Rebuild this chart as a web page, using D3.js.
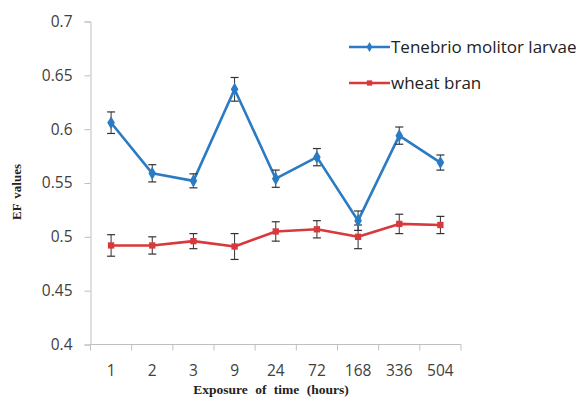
<!DOCTYPE html>
<html>
<head>
<meta charset="utf-8">
<script src="https://cdn.jsdelivr.net/npm/d3@7"></script>
<style>
  html, body { margin: 0; padding: 0; background: #fff; }
  svg { display: block; }
</style>
</head>
<body>
<svg id="chart" width="579" height="398"></svg>
<script>
// Exposure times (hours) on the x axis
const categories = ["1", "2", "3", "9", "24", "72", "168", "336", "504"];

// EF values and their error margins
const tenebrio = [0.606, 0.559, 0.552, 0.637, 0.554, 0.574, 0.515, 0.594, 0.569];
const tenebrioErr = [0.010, 0.008, 0.0065, 0.011, 0.008, 0.008, 0.009, 0.008, 0.007];
const wheat = [0.492, 0.492, 0.496, 0.491, 0.505, 0.507, 0.500, 0.512, 0.511];
const wheatErr = [0.010, 0.008, 0.007, 0.012, 0.009, 0.008, 0.011, 0.009, 0.008];

const yTicks = [0.4, 0.45, 0.5, 0.55, 0.6, 0.65, 0.7];
const seriesNames = ["Tenebrio molitor larvae", "wheat bran"];

const svg = d3.select("#chart");
const plotLeft = 90.5, plotRight = 461, plotTop = 21.5, plotBottom = 344.5;

const x = d3.scaleBand().domain(categories).range([plotLeft, plotRight]);
const y = d3.scaleLinear().domain([0.4, 0.7]).range([plotBottom, plotTop]);

const axisColor = "#bfbfbf";
const textColor = "#404040";
const tickFont = "'Open Sans', 'Liberation Sans', sans-serif";

// Y axis
const yAxis = svg.append("g")
  .attr("transform", `translate(${plotLeft},0)`)
  .call(d3.axisLeft(y).tickValues(yTicks).tickSize(6).tickPadding(12)
        .tickFormat(d => String(+d.toFixed(2))));
yAxis.select(".domain").attr("stroke", axisColor);
yAxis.selectAll(".tick line").attr("stroke", axisColor);
yAxis.selectAll("text").attr("fill", textColor).style("font-size", "15.5px")
  .style("font-family", tickFont);

// X axis with ticks at band boundaries
const xAxis = svg.append("g").attr("transform", `translate(0,${plotBottom})`);
xAxis.append("line").attr("x1", plotLeft).attr("x2", plotRight).attr("stroke", axisColor);
const bounds = categories.map(c => x(c)).concat([plotRight]);
xAxis.selectAll(".tk").data(bounds).join("line")
  .attr("class", "tk")
  .attr("x1", d => d).attr("x2", d => d).attr("y1", 0).attr("y2", 6)
  .attr("stroke", axisColor);
xAxis.selectAll(".lbl").data(categories).join("text")
  .attr("class", "lbl")
  .attr("x", d => x(d) + x.bandwidth() / 2)
  .attr("y", 31)
  .attr("text-anchor", "middle")
  .attr("fill", textColor)
  .style("font-size", "15.5px")
  .style("font-family", tickFont)
  .text(d => d);

// Axis titles
svg.append("text")
  .attr("transform", "translate(21,192) rotate(-90)")
  .attr("text-anchor", "middle")
  .style("font-family", "'Liberation Serif', serif")
  .style("font-weight", "bold")
  .style("font-size", "13px")
  .style("word-spacing", "2px")
  .attr("fill", "#222")
  .text("EF values");

svg.append("text")
  .attr("x", 271).attr("y", 394)
  .attr("text-anchor", "middle")
  .style("font-family", "'Liberation Serif', serif")
  .style("font-weight", "bold")
  .style("font-size", "13.5px")
  .style("word-spacing", "4px")
  .attr("fill", "#222")
  .text("Exposure of time (hours)");

const blue = "#2a7bc4";
const red = "#d8393c";

function drawSeries(values, errs, color, marker) {
  const g = svg.append("g");
  const cx = i => x(categories[i]) + x.bandwidth() / 2;
  const line = d3.line().x((d, i) => cx(i)).y(d => y(d));
  g.append("path").datum(values)
    .attr("fill", "none").attr("stroke", color).attr("stroke-width", 2.6)
    .attr("stroke-linejoin", "round").attr("d", line);

  // error bars
  const eb = g.selectAll(".eb").data(values).join("g")
    .attr("class", "eb")
    .attr("transform", (d, i) => `translate(${cx(i)},0)`);
  eb.append("line")
    .attr("y1", (d, i) => y(d + errs[i])).attr("y2", (d, i) => y(d - errs[i]))
    .attr("stroke", "#333").attr("stroke-width", 1);
  eb.append("line").attr("x1", -4).attr("x2", 4)
    .attr("y1", (d, i) => y(d + errs[i])).attr("y2", (d, i) => y(d + errs[i]))
    .attr("stroke", "#333").attr("stroke-width", 1.2);
  eb.append("line").attr("x1", -4).attr("x2", 4)
    .attr("y1", (d, i) => y(d - errs[i])).attr("y2", (d, i) => y(d - errs[i]))
    .attr("stroke", "#333").attr("stroke-width", 1.2);

  // markers
  const sym = d3.symbol().type(marker === "diamond" ? d3.symbolDiamond : d3.symbolSquare)
    .size(marker === "diamond" ? 50 : 40);
  g.selectAll(".mk").data(values).join("path")
    .attr("class", "mk")
    .attr("transform", (d, i) => `translate(${cx(i)},${y(d)})`)
    .attr("d", sym).attr("fill", color);
}

drawSeries(wheat, wheatErr, red, "square");
drawSeries(tenebrio, tenebrioErr, blue, "diamond");

// Legend
const legend = svg.append("g");
const legendItems = [
  { name: seriesNames[0], color: blue, marker: d3.symbolDiamond, size: 30, y: 47 },
  { name: seriesNames[1], color: red, marker: d3.symbolSquare, size: 28, y: 83 }
];
legendItems.forEach(it => {
  legend.append("line").attr("x1", 349).attr("x2", 390)
    .attr("y1", it.y).attr("y2", it.y)
    .attr("stroke", it.color).attr("stroke-width", 2.4);
  legend.append("path").attr("transform", `translate(369.5,${it.y})`)
    .attr("d", d3.symbol().type(it.marker).size(it.size)).attr("fill", it.color);
  legend.append("text").attr("x", 391).attr("y", it.y + 6)
    .attr("fill", "#222")
    .style("font-family", tickFont)
    .style("font-size", "17px")
    .text(it.name);
});
</script>
</body>
</html>
